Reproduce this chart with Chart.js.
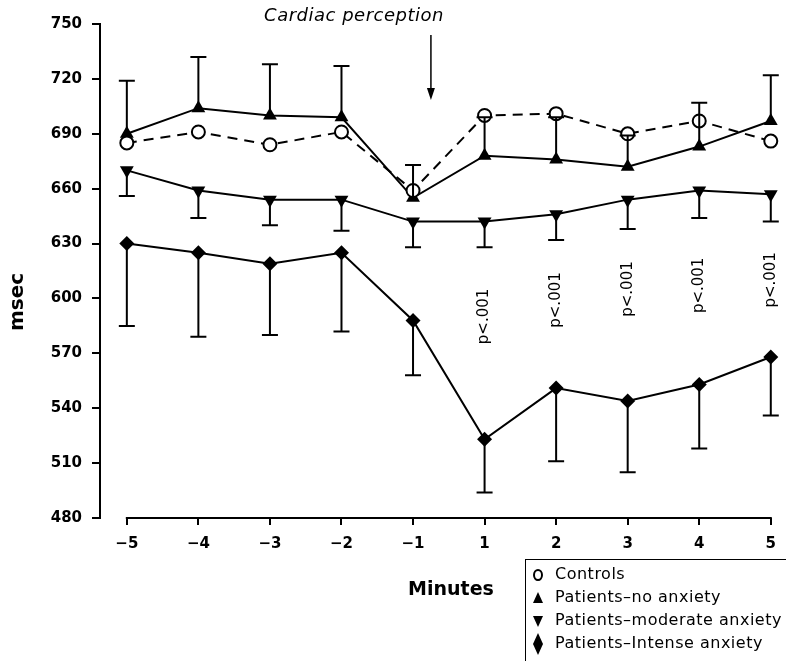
<!DOCTYPE html>
<html>
<head>
<meta charset="utf-8">
<script src="https://cdn.jsdelivr.net/npm/chart.js@4"></script>
<style>
  html, body { margin: 0; padding: 0; background: #fff; }
  #wrap { width: 786px; height: 661px; }
</style>
</head>
<body>
<div id="wrap"><canvas id="grafica"></canvas></div>
<script>
const minutos = ["−5", "−4", "−3", "−2", "−1", "1", "2", "3", "4", "5"];
const ticksMsec = [480, 510, 540, 570, 600, 630, 660, 690, 720, 750];

const controles = [685, 691, 684, 691, 659, 700, 701, 690, 697, 686];
const sinAnsiedad = [690, 704, 700, 699, 655, 678, 676, 672, 683, 697];
const sinAnsiedadSup = [719, 732, 728, 727, 673, 699, 699, 689, 707, 722];
const moderada = [670, 659, 654, 654, 642, 642, 646, 654, 659, 657];
const moderadaInf = [656, 644, 640, 637, 628, 628, 632, 638, 644, 642];
const intensa = [630, 625, 619, 625, 588, 523, 551, 544, 553, 568];
const intensaInf = [585, 579, 580, 582, 558, 494, 511, 505, 518, 536];

// p<.001 marks: minute index and msec where the rotated text starts
const pTexto = "p<.001";
const pIndices = [5, 6, 7, 8, 9];
const pBase = [575, 584, 590, 592, 595];

const leyenda = ["Controls", "Patients–no anxiety", "Patients–moderate anxiety", "Patients–Intense anxiety"];

const puntos = arr => arr.map((y, i) => ({ x: i, y }));
const FUENTE = "'DejaVu Sans', sans-serif";

Chart.defaults.font.family = FUENTE;
Chart.defaults.color = "#000";

const barras = [null, sinAnsiedadSup, moderadaInf, intensaInf];

const dibujo = {
  id: "dibujo",
  afterDatasetsDraw(chart) {
    const { ctx, scales: { x, y } } = chart;
    ctx.save();
    ctx.strokeStyle = "#000";
    ctx.lineWidth = 2;
    barras.forEach((fin, d) => {
      if (!fin) return;
      chart.data.datasets[d].data.forEach((p, i) => {
        const px = x.getPixelForValue(p.x);
        const y0 = y.getPixelForValue(p.y);
        const y1 = y.getPixelForValue(fin[i]);
        ctx.beginPath();
        ctx.moveTo(px, y0);
        ctx.lineTo(px, y1);
        ctx.moveTo(px - 8, y1);
        ctx.lineTo(px + 8, y1);
        ctx.stroke();
      });
    });
    ctx.restore();
  },
  afterDraw(chart) {
    const { ctx, chartArea, scales: { x, y } } = chart;
    ctx.save();
    ctx.strokeStyle = "#000";
    ctx.fillStyle = "#000";

    // x axis line, only between first and last minute
    ctx.lineWidth = 2;
    ctx.beginPath();
    ctx.moveTo(x.getPixelForValue(0) - 1, chartArea.bottom);
    ctx.lineTo(x.getPixelForValue(9) + 1, chartArea.bottom);
    ctx.stroke();

    // title and arrow
    ctx.font = "italic 18px " + FUENTE;
    ctx.letterSpacing = "0.5px";
    ctx.textAlign = "center";
    ctx.textBaseline = "alphabetic";
    ctx.fillText("Cardiac perception", 354, 21);
    const ax = x.getPixelForValue(4.25);
    const tip = y.getPixelForValue(708.5);
    ctx.lineWidth = 1.5;
    ctx.beginPath();
    ctx.moveTo(ax, 35);
    ctx.lineTo(ax, tip - 10);
    ctx.stroke();
    ctx.beginPath();
    ctx.moveTo(ax - 4, tip - 12);
    ctx.lineTo(ax + 4, tip - 12);
    ctx.lineTo(ax, tip);
    ctx.closePath();
    ctx.fill();

    // p values
    ctx.font = "15px " + FUENTE;
    ctx.letterSpacing = "0px";
    ctx.textAlign = "left";
    ctx.textBaseline = "middle";
    pIndices.forEach((idx, k) => {
      ctx.save();
      ctx.translate(x.getPixelForValue(idx), y.getPixelForValue(pBase[k]));
      ctx.rotate(-Math.PI / 2);
      ctx.fillText(pTexto, 0, 0);
      ctx.restore();
    });

    // axis titles
    ctx.font = "bold 19px " + FUENTE;
    ctx.textAlign = "center";
    ctx.fillText("Minutes", 451, 590);
    ctx.font = "bold 20px " + FUENTE;
    ctx.save();
    ctx.translate(18, 302);
    ctx.rotate(-Math.PI / 2);
    ctx.fillText("msec", 0, 0);
    ctx.restore();

    // legend box
    ctx.lineWidth = 1;
    ctx.strokeRect(525.5, 559.5, 280, 120);
    ctx.font = "16px " + FUENTE;
    ctx.letterSpacing = "0.5px";
    ctx.textAlign = "left";
    const filas = [575, 598, 621, 644];
    leyenda.forEach((t, i) => {
      const cy = filas[i];
      ctx.fillText(t, 555, cy);
      ctx.beginPath();
      if (i === 0) {
        ctx.lineWidth = 2;
        ctx.ellipse(538, cy, 4, 5, 0, 0, Math.PI * 2);
        ctx.stroke();
      } else if (i === 1) {
        ctx.moveTo(533, cy + 5); ctx.lineTo(543, cy + 5); ctx.lineTo(538, cy - 6);
        ctx.closePath(); ctx.fill();
      } else if (i === 2) {
        ctx.moveTo(533, cy - 5); ctx.lineTo(543, cy - 5); ctx.lineTo(538, cy + 6);
        ctx.closePath(); ctx.fill();
      } else {
        ctx.moveTo(538, cy - 11); ctx.lineTo(543, cy); ctx.lineTo(538, cy + 11); ctx.lineTo(533, cy);
        ctx.closePath(); ctx.fill();
      }
    });
    ctx.restore();
  }
};

new Chart(document.getElementById("grafica"), {
  type: "line",
  data: {
    datasets: [
      {
        label: leyenda[0], data: puntos(controles), clip: false,
        borderColor: "#000", borderWidth: 2, borderDash: [10, 7],
        pointStyle: "circle", pointRadius: 6.5, pointBorderWidth: 2,
        pointBackgroundColor: "#fff", pointBorderColor: "#000"
      },
      {
        label: leyenda[1], data: puntos(sinAnsiedad), clip: false,
        borderColor: "#000", borderWidth: 2,
        pointStyle: "triangle", pointRadius: 8, pointBorderWidth: 0,
        pointBackgroundColor: "#000"
      },
      {
        label: leyenda[2], data: puntos(moderada), clip: false,
        borderColor: "#000", borderWidth: 2,
        pointStyle: "triangle", pointRotation: 180, pointRadius: 8, pointBorderWidth: 0,
        pointBackgroundColor: "#000"
      },
      {
        label: leyenda[3], data: puntos(intensa), clip: false,
        borderColor: "#000", borderWidth: 2,
        pointStyle: "rectRot", pointRadius: 7.5, pointBorderWidth: 0,
        pointBackgroundColor: "#000"
      }
    ]
  },
  options: {
    responsive: true,
    maintainAspectRatio: false,
    animation: false,
    events: [],
    layout: { padding: { top: 24, right: 11, left: 0, bottom: 0 } },
    plugins: { legend: { display: false }, tooltip: { enabled: false } },
    scales: {
      x: {
        type: "linear", min: -0.375, max: 9,
        afterBuildTicks: s => { s.ticks = minutos.map((_, i) => ({ value: i })); },
        afterFit: s => { s.height = 143; },
        ticks: { callback: v => minutos[v], font: { size: 15, weight: "bold" }, padding: 10, maxRotation: 0, autoSkip: false },
        grid: { drawOnChartArea: false, drawTicks: true, tickLength: 7, color: "#000", lineWidth: 2 },
        border: { display: false }
      },
      y: {
        min: 480, max: 750,
        afterBuildTicks: s => { s.ticks = ticksMsec.map(v => ({ value: v })); },
        afterFit: s => { s.width = 100; },
        ticks: { font: { size: 15, weight: "bold" }, padding: 10 },
        grid: { drawOnChartArea: false, drawTicks: true, tickLength: 8, color: "#000", lineWidth: 2 },
        border: { display: true, color: "#000", width: 2 }
      }
    }
  },
  plugins: [dibujo]
});
</script>
</body>
</html>
